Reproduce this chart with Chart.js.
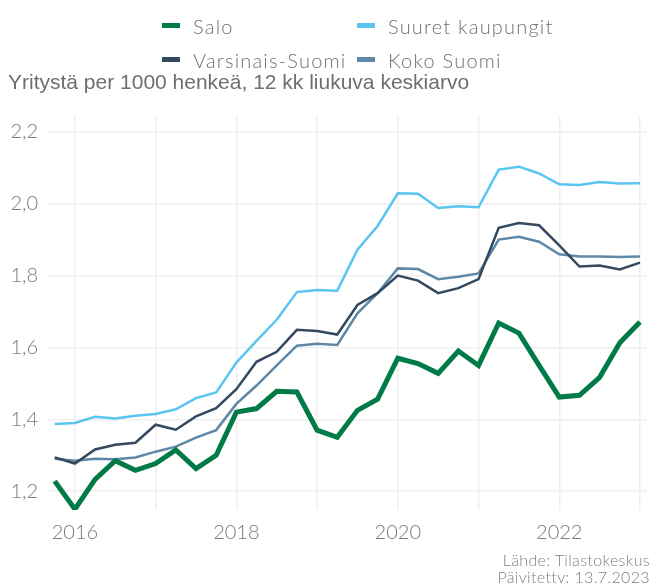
<!DOCTYPE html>
<html lang="fi">
<head>
<meta charset="utf-8">
<title>Yritystä per 1000 henkeä</title>
<script src="https://cdn.jsdelivr.net/npm/chart.js@4.4.0/dist/chart.umd.min.js"></script>
<style>
    html, body { margin: 0; padding: 0; background: #fff; overflow: hidden; }
    #wrap { position: relative; width: 651px; height: 583px; overflow: hidden; }
    #salesChart { position: absolute; left: 0; top: 0; }
    .legend-text { position: absolute; line-height: 24px; letter-spacing: 1.2px;
        font-family: Lato, "Open Sans", sans-serif; font-weight: 300; font-size: 20px; color: #707070; white-space: nowrap; }
    .swatch { position: absolute; width: 18px; height: 5px; }
    #caption { position: absolute; right: 1px; top: 551px; text-align: right; letter-spacing: 0.35px;
        font-family: Lato, "Open Sans", sans-serif; font-weight: 300; font-size: 16px; line-height: 17px; color: #808080; }
</style>
</head>
<body>
<div id="wrap">
    <canvas id="salesChart" width="651" height="583"></canvas>
    <div id="legend"></div>
    <div id="caption">Lähde: Tilastokeskus<br>Päivitetty: 13.7.2023</div>
</div>
<script>
// neljännesvuodet (x-arvot)
const quarters = [2015.75, 2016, 2016.25, 2016.5, 2016.75, 2017, 2017.25, 2017.5, 2017.75, 2018,
    2018.25, 2018.5, 2018.75, 2019, 2019.25, 2019.5, 2019.75, 2020, 2020.25, 2020.5,
    2020.75, 2021, 2021.25, 2021.5, 2021.75, 2022, 2022.25, 2022.5, 2022.75, 2023];

const seriesNames = ['Salo', 'Suuret kaupungit', 'Varsinais-Suomi', 'Koko Suomi'];
const seriesColors = ['#007b48', '#5bc5f2', '#34495e', '#5e88a6'];

const salo = [1.228, 1.150, 1.233, 1.285, 1.258, 1.277, 1.315, 1.263, 1.300, 1.420,
    1.430, 1.478, 1.476, 1.370, 1.350, 1.425, 1.456, 1.570, 1.555, 1.528,
    1.590, 1.550, 1.668, 1.640, 1.550, 1.462, 1.467, 1.517, 1.613, 1.671];
const suuret = [1.387, 1.390, 1.407, 1.402, 1.410, 1.415, 1.428, 1.459, 1.475, 1.558,
    1.618, 1.677, 1.754, 1.760, 1.758, 1.872, 1.938, 2.029, 2.028, 1.988,
    1.993, 1.990, 2.095, 2.103, 2.084, 2.054, 2.052, 2.060, 2.056, 2.057];
const varsinais = [1.294, 1.277, 1.316, 1.329, 1.335, 1.385, 1.371, 1.408, 1.431, 1.484,
    1.560, 1.588, 1.649, 1.646, 1.636, 1.718, 1.751, 1.800, 1.786, 1.751,
    1.765, 1.790, 1.933, 1.946, 1.940, 1.884, 1.825, 1.828, 1.817, 1.836];
const koko = [1.290, 1.285, 1.290, 1.289, 1.294, 1.310, 1.324, 1.349, 1.370, 1.443,
    1.494, 1.550, 1.605, 1.610, 1.607, 1.695, 1.751, 1.820, 1.818, 1.790,
    1.797, 1.806, 1.900, 1.908, 1.894, 1.859, 1.853, 1.853, 1.852, 1.853];

// akselien jaotukset
const xGridYears = [2016, 2017, 2018, 2019, 2020, 2021, 2022, 2023];
const xLabelYears = [2016, 2018, 2020, 2022];
const yTicks = [1.2, 1.4, 1.6, 1.8, 2.0, 2.2];

const allSeries = [salo, suuret, varsinais, koko];
const lineWidths = [5, 2.5, 2.5, 2.5];

function toPoints(values) {
    return values.map((v, i) => ({ x: quarters[i], y: v }));
}

// legenda kahteen sarakkeeseen (vasen reuna, rivin yläreuna)
const legendCols = [162, 357];
const legendRows = [23, 57];
const legend = document.getElementById('legend');
seriesNames.forEach((name, i) => {
    const col = legendCols[i % 2];
    const row = legendRows[Math.floor(i / 2)];
    const sw = document.createElement('span');
    sw.className = 'swatch';
    sw.style.background = seriesColors[i];
    sw.style.left = col + 'px';
    sw.style.top = row + 'px';
    const txt = document.createElement('span');
    txt.className = 'legend-text';
    txt.textContent = name;
    txt.style.left = (col + 31) + 'px';
    txt.style.top = (row - 9) + 'px';
    legend.appendChild(sw);
    legend.appendChild(txt);
});

const tickColor = '#7a7a7a';
const gridColor = '#efefef';

const ctx = document.getElementById('salesChart').getContext('2d');
const chart = new Chart(ctx, {
    type: 'line',
    data: {
        datasets: seriesNames.map((name, i) => ({
            label: name,
            data: toPoints(allSeries[i]),
            borderColor: seriesColors[i],
            backgroundColor: seriesColors[i],
            borderWidth: lineWidths[i],
            pointRadius: 0,
            tension: 0,
            fill: false
        }))
    },
    options: {
        responsive: false,
        animation: false,
        layout: { padding: { top: 0, left: 8, right: 0, bottom: 27 } },
        plugins: {
            legend: { display: false },
            tooltip: { enabled: false },
            title: {
                display: true,
                text: 'Yritystä per 1000 henkeä, 12 kk liukuva keskiarvo',
                align: 'start',
                color: '#6e6e6e',
                font: { family: '"Liberation Sans", Arial, sans-serif', size: 21, weight: 'normal' },
                padding: { top: 71, bottom: 19.8 }
            }
        },
        scales: {
            x: {
                type: 'linear',
                min: 2015.667,
                max: 2023.09,
                border: { display: false },
                grid: { color: gridColor, lineWidth: 1.5, drawTicks: false },
                afterBuildTicks: axis => { axis.ticks = xGridYears.map(v => ({ value: v })); },
                ticks: {
                    padding: 11,
                    color: tickColor,
                    font: { family: 'Lato, sans-serif', size: 20, weight: 300 },
                    maxRotation: 0,
                    autoSkip: false,
                    callback: v => xLabelYears.includes(v) ? String(v) : ''
                }
            },
            y: {
                min: 1.1477,
                max: 2.244,
                border: { display: false },
                grid: { color: gridColor, lineWidth: 1.5, drawTicks: false },
                afterBuildTicks: axis => { axis.ticks = yTicks.map(v => ({ value: v })); },
                afterFit: axis => { axis.width = 40; },
                ticks: {
                    padding: 10,
                    color: tickColor,
                    font: { family: 'Lato, sans-serif', size: 20, weight: 300 },
                    callback: v => v.toFixed(1).replace('.', ',')
                }
            }
        }
    }
});
</script>
</body>
</html>
